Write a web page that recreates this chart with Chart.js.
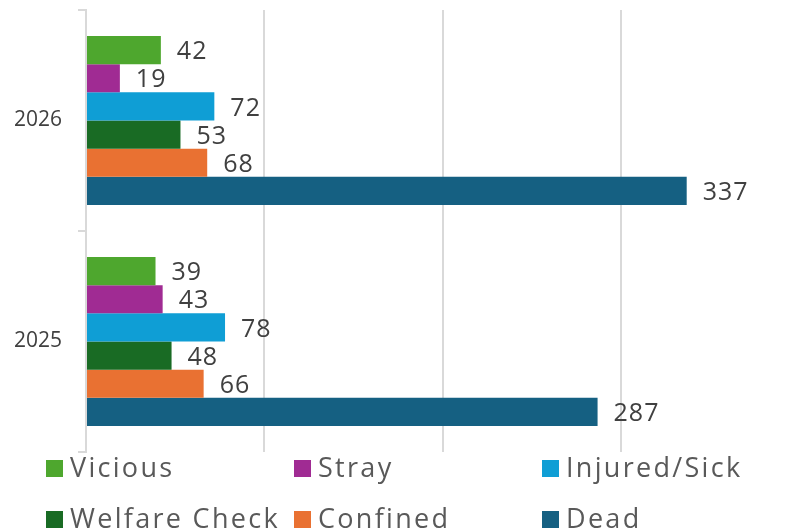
<!DOCTYPE html>
<html>
<head>
<meta charset="utf-8">
<script src="https://cdn.jsdelivr.net/npm/chart.js@4/dist/chart.umd.min.js"></script>
<style>
  html, body { margin: 0; padding: 0; background: #fff; overflow: hidden; }
  #wrap { position: absolute; left: 0; top: 0; width: 800px; height: 528px; }
  .lg { position: absolute; display: flex; align-items: center; white-space: nowrap;
        font-family: "Open Sans", sans-serif; font-size: 27px; color: #595959; letter-spacing: 2.3px; }
  .lg i { display: inline-block; width: 17px; height: 17px; margin-right: 7px; }
</style>
</head>
<body>
<div id="wrap"><canvas id="c"></canvas></div>
<script>
const categories = ['2026', '2025'];
const seriesNames = ['Vicious', 'Stray', 'Injured/Sick', 'Welfare Check', 'Confined', 'Dead'];
const vicious  = [42, 39];
const stray    = [19, 43];
const injured  = [72, 78];
const welfare  = [53, 48];
const confined = [68, 66];
const dead     = [337, 287];
const seriesColors = ['#4EA72E', '#A02B93', '#0F9ED5', '#196B24', '#E97132', '#156082'];

const seriesValues = [vicious, stray, injured, welfare, confined, dead];

const datasets = seriesNames.map((name, i) => ({
  label: name,
  data: seriesValues[i],
  backgroundColor: seriesColors[i],
  borderWidth: 0,
  categoryPercentage: 0.765,
  barPercentage: 1.0
}));

const labelPlugin = {
  id: 'barLabels',
  afterDatasetsDraw(chart) {
    const ctx = chart.ctx;
    ctx.save();
    ctx.font = '25px "Open Sans", sans-serif';
    try { ctx.letterSpacing = '1px'; } catch (e) {}
    ctx.fillStyle = '#404040';
    ctx.textAlign = 'left';
    ctx.textBaseline = 'middle';
    chart.data.datasets.forEach((ds, di) => {
      const meta = chart.getDatasetMeta(di);
      meta.data.forEach((bar, j) => {
        ctx.fillText(String(ds.data[j]), bar.x + 16, bar.y + 2);
      });
    });
    ctx.restore();
  }
};

new Chart(document.getElementById('c'), {
  type: 'bar',
  data: { labels: categories, datasets },
  options: {
    indexAxis: 'y',
    responsive: true,
    maintainAspectRatio: false,
    animation: false,
    layout: { padding: { top: 10, bottom: 76, left: 0, right: 1 } },
    plugins: { legend: { display: false }, tooltip: { enabled: false } },
    scales: {
      x: {
        min: 0, max: 400,
        ticks: { display: false, stepSize: 100 },
        grid: { color: '#d9d9d9', lineWidth: 2, drawTicks: false },
        border: { display: false },
        afterFit(s) { s.height = 0; }
      },
      y: {
        ticks: { color: '#404040', font: { family: '"Open Sans", sans-serif', size: 21 }, padding: 16 },
        grid: { drawOnChartArea: false, drawTicks: true, tickLength: 8, color: '#d9d9d9', lineWidth: 2 },
        border: { display: true, color: '#d9d9d9', width: 2 },
        afterFit(s) { s.width = 86; s.paddingTop = 0; s.paddingBottom = 0; }
      }
    }
  },
  plugins: [labelPlugin]
});

// HTML legend (3 columns x 2 rows)
const colX = [46, 294, 542];
const rowY = [459, 510];
seriesNames.forEach((name, i) => {
  const d = document.createElement('div');
  d.className = 'lg';
  d.style.left = colX[i % 3] + 'px';
  d.style.top = (rowY[Math.floor(i / 3)] - 13) + 'px';
  d.style.height = '40px';
  const sq = document.createElement('i');
  sq.style.background = seriesColors[i];
  sq.style.position = 'relative';
  sq.style.top = '2px';
  d.appendChild(sq);
  d.appendChild(document.createTextNode(name));
  document.body.appendChild(d);
});
</script>
</body>
</html>
